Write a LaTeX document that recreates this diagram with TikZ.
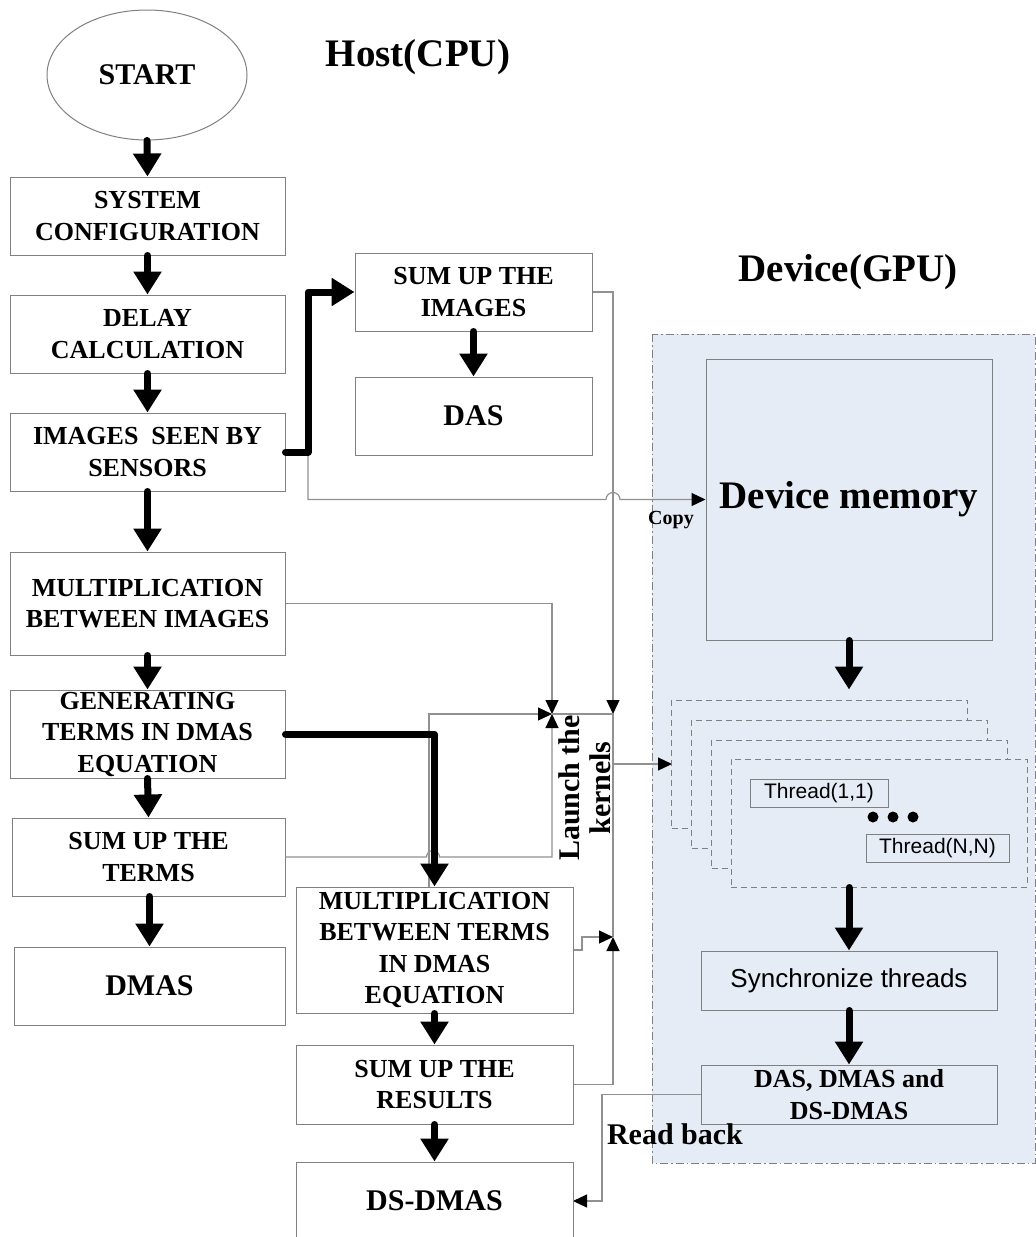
\documentclass[tikz,border=0pt]{standalone}
\usepackage{fontspec}
\setmainfont{Liberation Serif}
\newfontfamily\arialf{Liberation Sans}
\usetikzlibrary{arrows.meta,shapes.geometric}
\definecolor{gpublue}{RGB}{230,236,246}
\definecolor{bordergrey}{RGB}{128,128,128}
\definecolor{linegrey}{RGB}{145,145,145}
\begin{document}
\begin{tikzpicture}[x=1pt,y=-1pt,
  hbox/.style={draw=bordergrey, line width=1pt, fill=white, inner sep=0pt, align=center,
    font=\fontsize{26}{31.5}\selectfont\bfseries},
  bigtxt/.style={font=\fontsize{30}{34}\selectfont\bfseries},
  gbox/.style={draw=bordergrey, line width=1pt, fill=gpublue, inner sep=0pt, align=center},
  stackbox/.style={draw=bordergrey, line width=1pt, fill=gpublue, dash pattern=on 6pt off 4pt,
    minimum width=296, minimum height=128, inner sep=0pt},
  thinline/.style={draw=linegrey, line width=1.2pt},
  thinarrow/.style={thinline, -{Triangle[width=13pt,length=14pt,color=black]}},
  tarrow/.style={draw=black, line width=7pt, line cap=round, line join=round,
    -{Triangle[width=27pt,length=23pt]}},
  title/.style={font=\fontsize{39}{44}\selectfont\bfseries},
  dotnode/.style={circle, fill=black, inner sep=0pt, minimum size=11}
]
\clip (0,0) rectangle (1036,1237);
\fill[white] (0,0) rectangle (1036,1237);

% GPU region
\draw[bordergrey, fill=gpublue, line width=0.9pt, dash pattern=on 8pt off 3pt on 1.5pt off 3pt]
  (652,334) rectangle (1035,1163);

% coordinates for junctions
\coordinate (c0) at (308,452);
\coordinate (j0) at (552,714);
\coordinate (j1) at (613,714);
\coordinate (j2) at (613,937);
\coordinate (kb) at (613,764);

% left column
\node[draw=bordergrey, line width=1pt, ellipse, fill=white, inner sep=0pt,
  minimum width=200, minimum height=130, bigtxt] (start) at (147,75) {START};
\node[hbox, minimum width=275, minimum height=78] (sys) at (147.5,216) {SYSTEM\\CONFIGURATION};
\node[hbox, minimum width=275, minimum height=78] (delay) at (147.5,334) {DELAY\\CALCULATION};
\node[hbox, minimum width=275, minimum height=78] (img) at (147.5,452) {IMAGES\ \ SEEN BY\\SENSORS};
\node[hbox, minimum width=275, minimum height=103] (multi) at (147.5,603.5) {MULTIPLICATION\\BETWEEN IMAGES};
\node[hbox, minimum width=275, minimum height=88] (gen) at (147.5,734) {GENERATING\\TERMS IN DMAS\\EQUATION};
\node[hbox, minimum width=273, minimum height=78] (sumt) at (148.5,857) {SUM UP THE\\TERMS};
\node[hbox, minimum width=271, minimum height=78, bigtxt] (dmas) at (149.5,986) {DMAS};

% middle column
\node[hbox, minimum width=237, minimum height=78] (sumi) at (473.5,292) {SUM UP THE\\IMAGES};
\node[hbox, minimum width=237, minimum height=78, bigtxt] (das) at (473.5,416) {DAS};

% thin connectors
\draw[thinarrow] (multi.east) -| (j0);
\draw[thinarrow] (sumt.east) -- (426.5,857) arc[start angle=180, end angle=0, radius=6.5pt] -- (552,857) -- (j0);
\draw[thinarrow] (429,887) |- (j0);
\draw[thinarrow] (sumi.east) -| (j1);
\draw[thinline] (j0) -- (j1) -- (j2);
\draw[thinarrow] (kb) -- (672,764);
\draw[thinarrow] (573,950) -- (582,950) |- (j2);
\draw[thinarrow] (573,1084.5) -| (j2);
\draw[thinarrow] (701,1094.5) -- (602,1094.5) |- (573,1201);

% lower middle column
\node[hbox, minimum width=277, minimum height=126] (multt) at (434.5,950) {MULTIPLICATION\\BETWEEN TERMS\\IN DMAS\\EQUATION};
\node[hbox, minimum width=277, minimum height=79] (sumr) at (434.5,1084.5) {SUM UP THE\\RESULTS};
\node[hbox, minimum width=277, minimum height=78, bigtxt] (dsd) at (434.5,1201) {DS-DMAS};

% GPU side
\node[gbox, minimum width=286, minimum height=281, title] (dm) at (849,499.5) {Device memory};
\draw[thinarrow] (c0) |- (606,499.5) arc[start angle=180, end angle=0, radius=7pt] -- (dm.west);
\node[stackbox] (r1) at (819.5,764) {};
\node[stackbox] (r2) at (839.5,784) {};
\node[stackbox] (r3) at (859.5,804) {};
\node[stackbox] (r4) at (879,823) {};
\node[gbox, minimum width=138, minimum height=28, font=\arialf\fontsize{21}{24}\selectfont] (t11) at (819,793) {Thread(1,1)};
\node[gbox, minimum width=143, minimum height=28, font=\arialf\fontsize{21}{24}\selectfont] (tnn) at (937.5,848) {Thread(N,N)};
\node[dotnode] (d1) at (873,817) {};
\node[dotnode] (d2) at (893,817) {};
\node[dotnode] (d3) at (913,817) {};
\node[gbox, minimum width=296, minimum height=59, font=\arialf\fontsize{26}{30}\selectfont] (sync) at (849,980.5) {Synchronize threads};
\node[gbox, minimum width=296, minimum height=59, font=\fontsize{26}{31.5}\selectfont\bfseries] (dd) at (849,1094.5) {DAS, DMAS and\\DS-DMAS};

% thick arrows
\draw[tarrow] (start.south) -- (sys.north);
\draw[tarrow] (sys.south) -- (delay.north);
\draw[tarrow] (delay.south) -- (img.north);
\draw[tarrow] (img.south) -- (multi.north);
\draw[tarrow] (multi.south) -- (gen.north);
\draw[tarrow] (gen.south) -- (sumt.north);
\draw[tarrow] (sumt.south -| dmas.north) -- (dmas.north);
\draw[tarrow] (img.east) -- (c0) |- (sumi.west);
\draw[tarrow] (sumi.south) -- (das.north);
\draw[tarrow] (gen.east) -| (multt.north);
\draw[tarrow] (multt.south) -- (sumr.north);
\draw[tarrow] (sumr.south) -- (dsd.north);
\draw[tarrow, shorten >=10pt] (dm.south) -- (dm.south |- r1.north);
\draw[tarrow] (sync.north |- r4.south) -- (sync.north);
\draw[tarrow] (sync.south) -- (dd.north);

% labels
\node[title] (host) at (418,57) {Host(CPU)};
\node[title] (gpu) at (848,272) {Device(GPU)};
\node[font=\fontsize{20}{24}\selectfont\bfseries] (copy) at (671,520) {Copy};
\node[bigtxt] (rb) at (675,1134) {Read back};
\node[font=\fontsize{30}{31}\selectfont\bfseries, rotate=90, align=center, inner sep=0pt] (launch) at (585,788) {Launch the\\kernels};
\end{tikzpicture}
\end{document}
